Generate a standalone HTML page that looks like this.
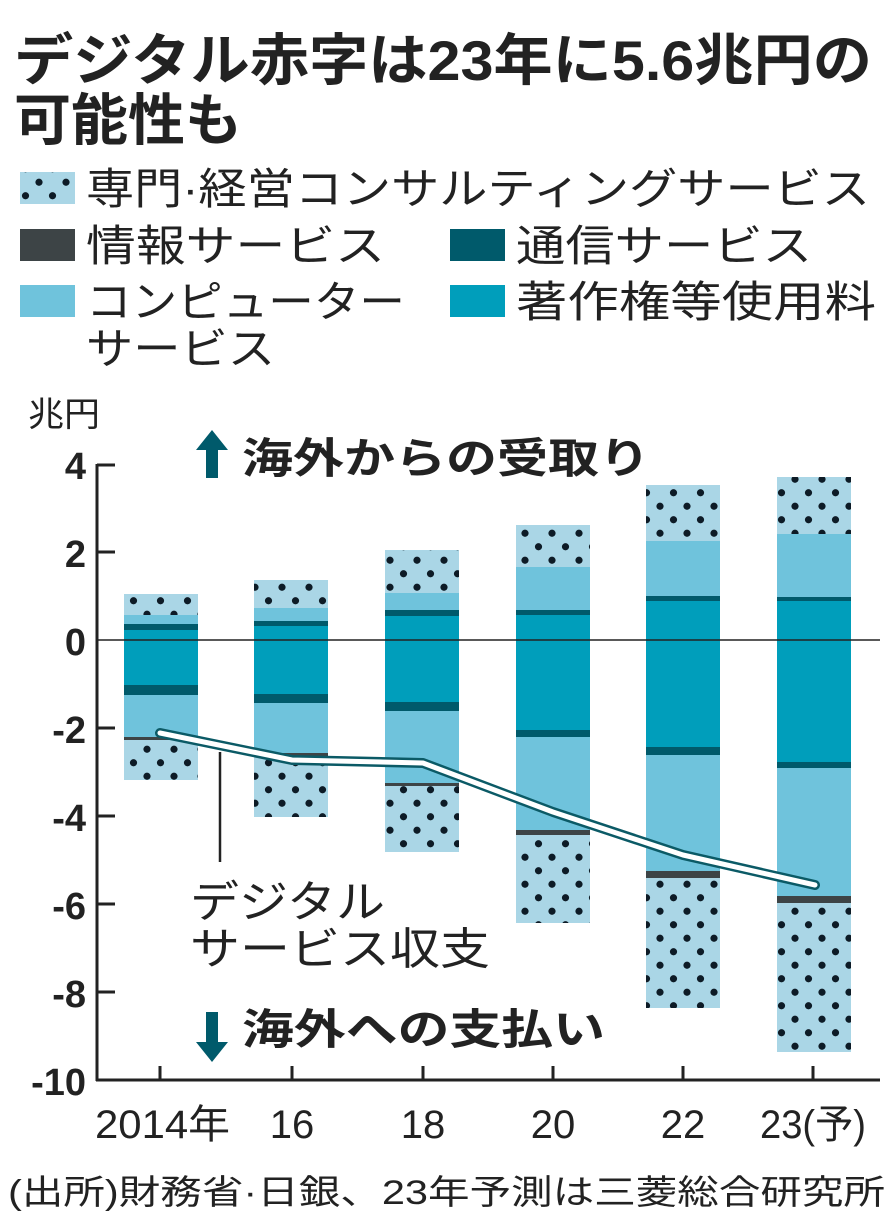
<!DOCTYPE html>
<html><head><meta charset="utf-8"><style>
body{margin:0;background:#fff;}
svg text{font-family:"Liberation Sans","Noto Sans CJK JP",sans-serif;fill:#222;}
</style></head><body>
<svg width="896" height="1222" viewBox="0 0 896 1222" xmlns="http://www.w3.org/2000/svg">
<defs>
<pattern id="dots" width="27" height="27" patternUnits="userSpaceOnUse" x="12" y="0">
<rect width="27" height="27" fill="#aad6e6"/>
<circle cx="13.5" cy="6.75" r="3.6" fill="#0d1b26"/>
<circle cx="0" cy="20.25" r="3.6" fill="#0d1b26"/>
<circle cx="27" cy="20.25" r="3.6" fill="#0d1b26"/>
</pattern>
</defs>
<text x="14" y="80" font-size="56" font-weight="bold" textLength="858" lengthAdjust="spacingAndGlyphs">デジタル赤字は23年に5.6兆円の</text>
<text x="14" y="140" font-size="56" font-weight="bold" textLength="228" lengthAdjust="spacingAndGlyphs">可能性も</text>
<rect x="20" y="172" width="55" height="32" fill="url(#dots)"/>
<text x="86" y="204" font-size="43" textLength="784" lengthAdjust="spacingAndGlyphs">専門·経営コンサルティングサービス</text>
<rect x="20" y="229" width="55" height="32" fill="#3d4446"/>
<text x="86" y="261" font-size="43" textLength="299" lengthAdjust="spacingAndGlyphs">情報サービス</text>
<rect x="450" y="229" width="55" height="32" fill="#005a6b"/>
<text x="516" y="261" font-size="43" textLength="296" lengthAdjust="spacingAndGlyphs">通信サービス</text>
<rect x="20" y="285" width="55" height="32" fill="#6fc3dc"/>
<text x="86" y="317" font-size="43" textLength="319" lengthAdjust="spacingAndGlyphs">コンピューター</text>
<text x="86" y="364" font-size="43" textLength="189" lengthAdjust="spacingAndGlyphs">サービス</text>
<rect x="450" y="285" width="55" height="32" fill="#009ebb"/>
<text x="516" y="317" font-size="43" textLength="360" lengthAdjust="spacingAndGlyphs">著作権等使用料</text>
<text x="28" y="426" font-size="34" textLength="72" lengthAdjust="spacingAndGlyphs">兆円</text>
<g font-size="38" font-weight="bold" text-anchor="end">
<text x="86" y="479">4</text><text x="86" y="567">2</text><text x="86" y="655">0</text>
<text x="86" y="743">-2</text><text x="86" y="831">-4</text><text x="86" y="919">-6</text>
<text x="86" y="1007">-8</text><text x="86" y="1095">-10</text>
</g>
<g id="bars">
<rect x="124" y="594" width="74" height="21" fill="url(#dots)"/>
<rect x="124" y="615" width="74" height="9" fill="#6fc3dc"/>
<rect x="124" y="624" width="74" height="6" fill="#005a6b"/>
<rect x="124" y="630" width="74" height="55" fill="#009ebb"/>
<rect x="124" y="685" width="74" height="10" fill="#005a6b"/>
<rect x="124" y="695" width="74" height="42" fill="#6fc3dc"/>
<rect x="124" y="737" width="74" height="3" fill="#3d4446"/>
<rect x="124" y="740" width="74" height="40" fill="url(#dots)"/>
<rect x="254" y="580" width="74" height="28" fill="url(#dots)"/>
<rect x="254" y="608" width="74" height="13" fill="#6fc3dc"/>
<rect x="254" y="621" width="74" height="5" fill="#005a6b"/>
<rect x="254" y="626" width="74" height="68" fill="#009ebb"/>
<rect x="254" y="694" width="74" height="9" fill="#005a6b"/>
<rect x="254" y="703" width="74" height="50" fill="#6fc3dc"/>
<rect x="254" y="753" width="74" height="3" fill="#3d4446"/>
<rect x="254" y="756" width="74" height="61" fill="url(#dots)"/>
<rect x="385" y="550" width="74" height="43" fill="url(#dots)"/>
<rect x="385" y="593" width="74" height="17" fill="#6fc3dc"/>
<rect x="385" y="610" width="74" height="6" fill="#005a6b"/>
<rect x="385" y="616" width="74" height="86" fill="#009ebb"/>
<rect x="385" y="702" width="74" height="9" fill="#005a6b"/>
<rect x="385" y="711" width="74" height="72" fill="#6fc3dc"/>
<rect x="385" y="783" width="74" height="3" fill="#3d4446"/>
<rect x="385" y="786" width="74" height="66" fill="url(#dots)"/>
<rect x="516" y="525" width="74" height="42" fill="url(#dots)"/>
<rect x="516" y="567" width="74" height="43" fill="#6fc3dc"/>
<rect x="516" y="610" width="74" height="5" fill="#005a6b"/>
<rect x="516" y="615" width="74" height="115" fill="#009ebb"/>
<rect x="516" y="730" width="74" height="7" fill="#005a6b"/>
<rect x="516" y="737" width="74" height="93" fill="#6fc3dc"/>
<rect x="516" y="830" width="74" height="5" fill="#3d4446"/>
<rect x="516" y="835" width="74" height="88" fill="url(#dots)"/>
<rect x="646" y="485" width="74" height="56" fill="url(#dots)"/>
<rect x="646" y="541" width="74" height="55" fill="#6fc3dc"/>
<rect x="646" y="596" width="74" height="5" fill="#005a6b"/>
<rect x="646" y="601" width="74" height="146" fill="#009ebb"/>
<rect x="646" y="747" width="74" height="8" fill="#005a6b"/>
<rect x="646" y="755" width="74" height="116" fill="#6fc3dc"/>
<rect x="646" y="871" width="74" height="7" fill="#3d4446"/>
<rect x="646" y="878" width="74" height="130" fill="url(#dots)"/>
<rect x="777" y="477" width="74" height="57" fill="url(#dots)"/>
<rect x="777" y="534" width="74" height="63" fill="#6fc3dc"/>
<rect x="777" y="597" width="74" height="4" fill="#005a6b"/>
<rect x="777" y="601" width="74" height="161" fill="#009ebb"/>
<rect x="777" y="762" width="74" height="6" fill="#005a6b"/>
<rect x="777" y="768" width="74" height="128" fill="#6fc3dc"/>
<rect x="777" y="896" width="74" height="7" fill="#3d4446"/>
<rect x="777" y="903" width="74" height="149" fill="url(#dots)"/>
</g>
<line x1="97" y1="640" x2="880" y2="640" stroke="#222" stroke-width="1.5"/>
<g stroke="#222" stroke-width="3" fill="none">
<line x1="97" y1="464" x2="97" y2="1081"/>
<line x1="96" y1="1080" x2="880" y2="1080"/>
<line x1="97" y1="465" x2="115" y2="465"/><line x1="97" y1="552" x2="115" y2="552"/>
<line x1="97" y1="728" x2="115" y2="728"/><line x1="97" y1="816" x2="115" y2="816"/>
<line x1="97" y1="904" x2="115" y2="904"/><line x1="97" y1="992" x2="115" y2="992"/>
<line x1="160" y1="1080" x2="160" y2="1066"/><line x1="292" y1="1080" x2="292" y2="1066"/>
<line x1="423" y1="1080" x2="423" y2="1066"/><line x1="553" y1="1080" x2="553" y2="1066"/>
<line x1="683" y1="1080" x2="683" y2="1066"/><line x1="813" y1="1080" x2="813" y2="1066"/>
</g>
<polyline points="160,733 292,760 423,763 553,812 683,855 815,885" fill="none" stroke="#0b5a66" stroke-width="10" stroke-linejoin="round" stroke-linecap="round"/>
<polyline points="160,733 292,760 423,763 553,812 683,855 815,885" fill="none" stroke="#fff" stroke-width="5" stroke-linejoin="round" stroke-linecap="round"/>
<line x1="220" y1="752" x2="220" y2="862" stroke="#222" stroke-width="2.5"/>
<text x="190" y="917" font-size="44" textLength="195" lengthAdjust="spacingAndGlyphs">デジタル</text>
<text x="190" y="964" font-size="44" textLength="300" lengthAdjust="spacingAndGlyphs">サービス収支</text>
<path d="M212,430 L196,450 L206,450 L206,478 L218,478 L218,450 L228,450 Z" fill="#005a6b"/>
<text x="242" y="473" font-size="42" font-weight="bold" textLength="408" lengthAdjust="spacingAndGlyphs">海外からの受取り</text>
<path d="M212,1062 L196,1042 L206,1042 L206,1012 L218,1012 L218,1042 L228,1042 Z" fill="#005a6b"/>
<text x="242" y="1044" font-size="42" font-weight="bold" textLength="363" lengthAdjust="spacingAndGlyphs">海外への支払い</text>
<g font-size="40">
<text x="95" y="1138" textLength="135" lengthAdjust="spacingAndGlyphs">2014年</text>
<text x="292" y="1138" text-anchor="middle">16</text><text x="423" y="1138" text-anchor="middle">18</text>
<text x="553" y="1138" text-anchor="middle">20</text><text x="683" y="1138" text-anchor="middle">22</text>
<text x="760" y="1138" textLength="106" lengthAdjust="spacingAndGlyphs">23(予)</text>
</g>
<text x="8" y="1204" font-size="34" textLength="877" lengthAdjust="spacingAndGlyphs">(出所)財務省·日銀、23年予測は三菱総合研究所</text>
</svg>
</body></html>
